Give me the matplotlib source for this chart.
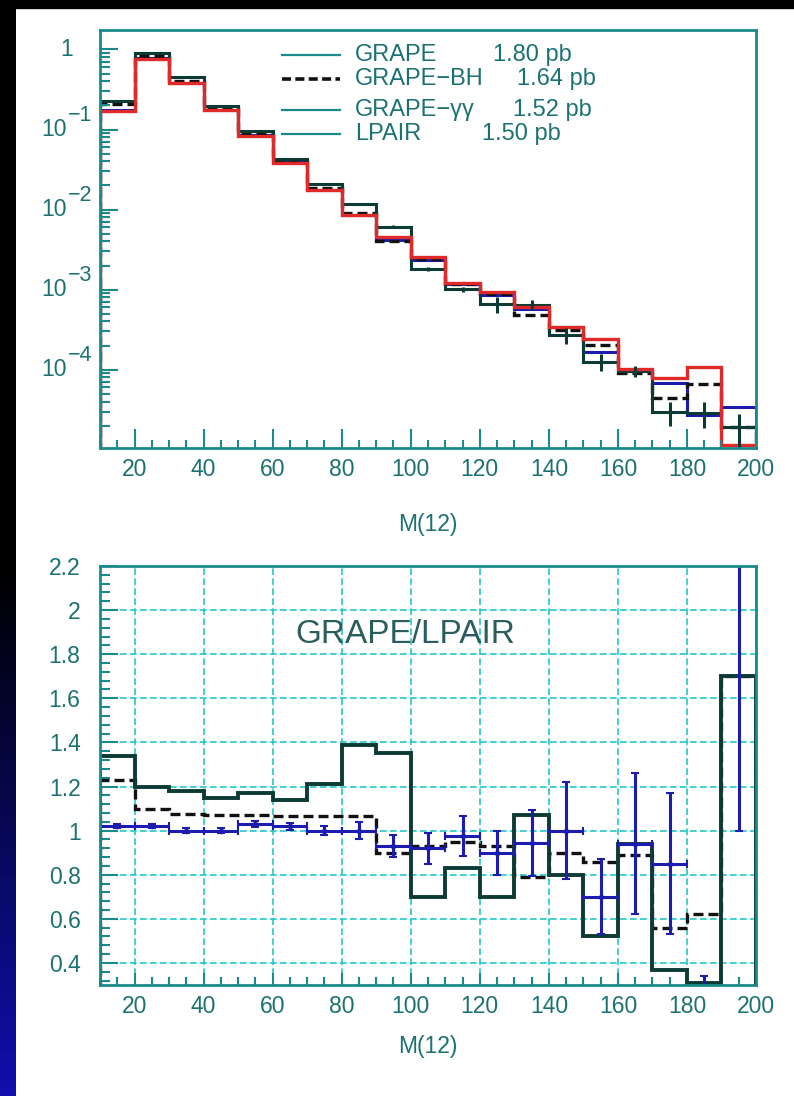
import matplotlib
matplotlib.use('Agg')
import matplotlib.pyplot as plt
import numpy as np
from matplotlib.ticker import MultipleLocator, FixedLocator, LogLocator, NullFormatter, FuncFormatter
from matplotlib.patches import Rectangle

plt.rcParams['font.family'] = ['Liberation Sans', 'DejaVu Sans']

# bins of M(12)
edges = np.arange(10, 201, 10)
centers = edges[:-1] + 5

# top panel: cross sections per bin
lpair = [0.17, 0.76, 0.38, 0.173, 0.082, 0.038, 0.0174, 0.0085, 0.0045, 0.00258,
         0.00122, 0.00094, 0.00061, 0.00034, 0.00024, 0.000102, 0.0000797, 0.000107, 0.0000113]
grape = [0.228, 0.912, 0.448, 0.199, 0.096, 0.0433, 0.0211, 0.0118, 0.0061, 0.00181,
         0.00101, 0.00066, 0.00065, 0.00027, 0.000125, 0.000096, 0.0000295, 0.0000289, 0.0000192]
grape_err = [0.004, 0.01, 0.006, 0.003, 0.002, 0.001, 0.0006, 0.0004, 0.0003, 0.0001,
             0.00008, 0.00015, 0.0001, 0.00006, 0.00003, 0.000015, 0.00001, 0.00001, 0.000009]
grape_bh = [0.209, 0.836, 0.409, 0.185, 0.0877, 0.0405, 0.0185, 0.00905, 0.00405, 0.0024,
            0.00116, 0.00087, 0.00048, 0.00031, 0.000206, 0.000091, 0.0000446, 0.0000663, 0.0000192]
grape_gg = [0.173, 0.775, 0.38, 0.173, 0.0845, 0.0388, 0.0174, 0.0085, 0.0042, 0.00237,
            0.00119, 0.00085, 0.00058, 0.00034, 0.000168, 0.0000959, 0.0000677, 0.0000268, 0.0000339]

# bottom panel: ratios to LPAIR
r_grape = [1.34, 1.20, 1.18, 1.15, 1.17, 1.14, 1.21, 1.39, 1.35, 0.70,
           0.83, 0.70, 1.07, 0.80, 0.52, 0.94, 0.37, 0.31, 1.70]
r_bh = [1.23, 1.10, 1.075, 1.07, 1.07, 1.065, 1.065, 1.065, 0.90, 0.93,
        0.95, 0.93, 0.79, 0.90, 0.86, 0.89, 0.56, 0.62, 1.70]
r_gg = [1.02, 1.02, 1.00, 1.00, 1.03, 1.02, 1.00, 1.00, 0.93, 0.92,
        0.975, 0.90, 0.945, 1.00, 0.70, 0.94, 0.85, 0.25, 3.0]
r_gg_err = [0.01, 0.01, 0.01, 0.01, 0.015, 0.015, 0.02, 0.04, 0.05, 0.07,
            0.09, 0.10, 0.15, 0.22, 0.17, 0.32, 0.32, 0.09, 2.0]

leg_names = ['GRAPE', 'GRAPE\u2212BH', 'GRAPE\u2212\u03b3\u03b3', 'LPAIR']
leg_xsec = ['1.80 pb', '1.64 pb', '1.52 pb', '1.50 pb']

teal = '#1a8a8a'
txt = '#1c7272'
c_grape = '#0c3a34'
c_bh = '#111111'
c_gg = '#1c1cb0'
c_lp = '#e02a2a'

W, H = 794, 1096
fig = plt.figure(figsize=(W / 100, H / 100), dpi=100)
fig.patch.set_facecolor('white')


def style_axes(ax):
    for s in ax.spines.values():
        s.set_color(teal)
        s.set_linewidth(2)
    ax.tick_params(which='both', direction='in', colors=teal, width=1.5,
                   top=False, right=False, labelcolor=txt, labelsize=16.5)
    ax.tick_params(axis='x', which='major', length=14, pad=7)
    ax.tick_params(axis='x', which='minor', length=6)
    ax.tick_params(axis='y', which='major', length=13)
    ax.tick_params(axis='y', which='minor', length=7)
    ax.xaxis.set_major_locator(MultipleLocator(20))
    ax.xaxis.set_minor_locator(MultipleLocator(5))
    ax.set_xlim(10, 200)


# ---- top panel ----
ax1 = fig.add_axes([100 / W, 1 - 448 / H, 656 / W, 418 / H])
style_axes(ax1)
ax1.set_yscale('log')
ax1.set_ylim(1.05e-5, 1.75)
ax1.xaxis.set_major_locator(MultipleLocator(20))
ax1.xaxis.set_minor_locator(MultipleLocator(5))
ax1.yaxis.set_major_locator(FixedLocator([1e-4, 1e-3, 1e-2, 1e-1, 1]))
ax1.yaxis.set_minor_locator(LogLocator(base=10, subs=np.arange(2, 10), numticks=30))
ax1.yaxis.set_major_formatter(NullFormatter())
ax1.yaxis.set_minor_formatter(NullFormatter())

ax1.stairs(grape_gg, edges, color=c_gg, lw=2.2)
ax1.stairs(grape_bh, edges, color=c_bh, lw=2.4, ls=(0, (3, 1.5)))
ax1.stairs(grape, edges, color=c_grape, lw=2.2)
ax1.errorbar(centers, grape, yerr=grape_err, fmt='none', ecolor=c_grape, elinewidth=2.2)
ax1.stairs(lpair, edges, color=c_lp, lw=2.4)

# log labels in the 10^n style
tr = ax1.get_yaxis_transform()
ax1.text(-0.041, 1, '1', transform=tr, ha='right', va='center', fontsize=16.5, color=txt)
for n in [1, 2, 3, 4]:
    v = 10.0 ** (-n)
    ax1.text(-0.05, v, '10', transform=tr, ha='right', va='center', fontsize=16.5, color=txt)
    ax1.text(-0.049, v * 10 ** 0.18, '\u2212%d' % n, transform=tr, ha='left', va='center',
             fontsize=15.5, color=txt)

# legend drawn by hand
leg_y = [0.94, 0.883, 0.809, 0.751]
leg_val_x = [0.599, 0.636, 0.630, 0.582]
for i in range(4):
    if i == 1:
        ax1.plot([0.277, 0.366], [leg_y[i]] * 2, transform=ax1.transAxes,
                 color=c_bh, lw=2.6, ls=(0, (2.5, 1.2)))
    else:
        ax1.plot([0.277, 0.366], [leg_y[i]] * 2, transform=ax1.transAxes,
                 color=teal, lw=1.6)
    ax1.text(0.389, leg_y[i], leg_names[i], transform=ax1.transAxes, ha='left',
             va='center', fontsize=17, color=txt)
    ax1.text(leg_val_x[i], leg_y[i], leg_xsec[i], transform=ax1.transAxes, ha='left',
             va='center', fontsize=17, color=txt)

fig.text(428 / W, 1 - 524 / H, 'M(12)', ha='center', va='center', fontsize=16.5, color=txt)

# ---- bottom panel ----
ax2 = fig.add_axes([100 / W, 1 - 985 / H, 656 / W, 419 / H])
style_axes(ax2)
ax2.set_ylim(0.3, 2.2)
ax2.yaxis.set_major_locator(MultipleLocator(0.2))
ax2.yaxis.set_minor_locator(MultipleLocator(0.04))
ax2.yaxis.set_major_formatter(FuncFormatter(lambda v, p: '%g' % round(v, 2)))
ax2.tick_params(axis='y', which='major', pad=14)
ax2.tick_params(axis='x', which='major', length=9)
ax2.grid(True, which='major', color='#24c6c6', ls=(0, (4, 2)), lw=1.2)
ax2.set_axisbelow(True)

ax2.stairs(r_bh, edges, color=c_bh, lw=2.4, ls=(0, (3, 1.5)))
ax2.stairs(r_grape, edges, color=c_grape, lw=2.8)
ax2.errorbar(centers, r_gg, xerr=5, yerr=r_gg_err, fmt='o', ms=3, color=c_gg,
             ecolor=c_gg, elinewidth=2.2, capsize=3, capthick=1.5)
ax2.text(0.466, 1.89, 'GRAPE/LPAIR', transform=ax2.get_yaxis_transform(), ha='center',
         va='center', fontsize=24, color='#2a5e5e')

fig.text(428 / W, 1 - 1046 / H, 'M(12)', ha='center', va='center', fontsize=16.5, color=txt)

# slide border: black top band, dark-to-blue left strip
fig.add_artist(Rectangle((0, 1 - 8 / H), 1, 8 / H, transform=fig.transFigure,
                         color='black', zorder=10))
strip = fig.add_axes([0, 0, 16 / W, 1])
rows = np.linspace(0, 1, H)
blue = np.clip((rows - 0.52) / 0.48, 0, 1)
grad = np.zeros((H, 1, 3))
grad[:, 0, 0] = 0.06 * blue
grad[:, 0, 1] = 0.06 * blue
grad[:, 0, 2] = 0.68 * blue
strip.imshow(grad, aspect='auto', extent=[0, 1, 1, 0])
strip.axis('off')

fig.savefig('out.png', dpi=100)
